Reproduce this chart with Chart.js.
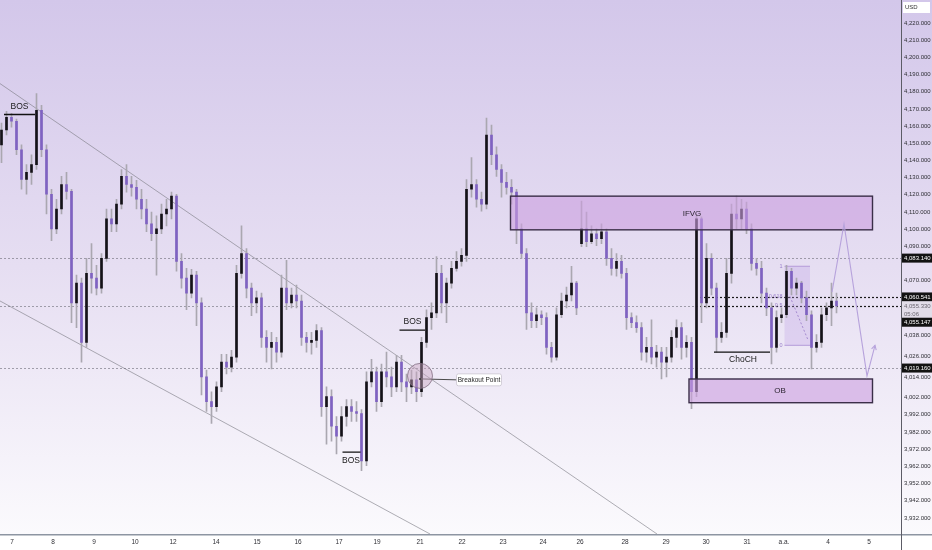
<!DOCTYPE html>
<html><head><meta charset="utf-8">
<script src="https://cdn.jsdelivr.net/npm/chart.js@4.4.1/dist/chart.umd.min.js"></script>
<style>html,body{margin:0;padding:0;background:#fff;overflow:hidden}canvas{display:block}</style>
</head><body>
<canvas id="c" width="932" height="550"></canvas>
<script>
// ---- candle data ----
const openP = [4149.0,4157.7,4165.1,4162.8,4146.2,4128.9,4133.0,4137.5,4169.2,4146.2,
4120.3,4100.2,4111.7,4126.0,4122.0,4057.1,4068.6,4034.1,4074.3,4071.5,
4065.7,4083.0,4106.0,4103.1,4114.6,4130.7,4126.0,4124.3,4117.4,4111.7,
4103.1,4097.3,4100.2,4108.8,4111.7,4119.2,4081.2,4071.5,4062.8,4073.2,
4057.1,4014.0,3999.6,3996.7,4008.2,4022.6,4019.7,4025.5,4074.3,4085.8,
4065.7,4057.1,4060.0,4037.0,4031.2,4034.1,4028.4,4065.7,4057.1,4061.7,
4058.2,4037.0,4034.1,4035.3,4041.0,3996.7,4002.5,3985.3,3979.5,3991.0,
3996.7,3993.9,3992.7,3965.1,4011.1,4016.9,3999.6,4016.9,4014.0,4008.2,
4022.6,4011.1,4008.2,4012.3,4005.4,4034.1,4048.5,4051.3,4074.3,4057.1,
4068.6,4077.2,4081.2,4084.7,4123.2,4126.0,4117.4,4114.6,4154.8,4143.3,
4134.7,4127.2,4124.3,4121.5,4100.2,4085.8,4051.3,4046.7,4050.2,4048.5,
4031.2,4025.5,4050.2,4058.2,4061.7,4068.6,4091.6,4100.2,4092.7,4097.3,
4094.4,4098.5,4083.0,4077.2,4081.2,4074.3,4048.5,4045.6,4042.7,4028.4,
4031.2,4025.5,4028.4,4022.6,4025.5,4037.0,4042.7,4031.2,4034.1,4005.4,
4106.0,4057.1,4083.0,4065.7,4037.0,4039.9,4074.3,4108.8,4106.0,4111.7,
4100.2,4080.1,4077.2,4062.8,4054.2,4031.2,4048.5,4050.2,4075.5,4065.7,
4068.6,4060.0,4050.2,4031.2,4034.1,4050.2,4054.2,4058.2];
const highP = [4161.7,4168.6,4167.4,4164.0,4149.0,4137.5,4143.3,4178.9,4172.0,4149.0,
4123.2,4117.4,4130.7,4133.0,4123.2,4073.2,4071.5,4083.0,4091.6,4078.9,
4085.8,4111.7,4111.7,4117.4,4134.7,4137.5,4130.7,4128.4,4123.2,4117.4,
4110.0,4107.7,4114.6,4117.4,4121.5,4120.3,4085.8,4077.2,4076.6,4075.5,
4060.0,4018.0,4005.4,4011.1,4027.2,4027.2,4029.5,4078.9,4101.9,4088.7,
4068.6,4064.0,4062.8,4041.0,4039.9,4037.0,4073.2,4081.8,4065.7,4067.4,
4061.7,4039.9,4039.9,4044.4,4042.7,4008.2,4006.5,3991.0,3996.7,4000.8,
4000.8,3999.6,3995.0,4016.9,4024.3,4019.7,4021.5,4028.4,4019.7,4026.6,
4026.6,4015.7,4018.0,4016.9,4037.0,4053.1,4057.1,4084.1,4078.9,4071.5,
4081.2,4087.0,4088.7,4128.9,4141.6,4128.9,4121.5,4164.6,4160.5,4147.9,
4137.5,4133.0,4128.9,4123.2,4103.1,4088.7,4057.1,4054.2,4052.5,4051.3,
4034.1,4054.2,4062.8,4066.3,4078.4,4069.7,4116.3,4110.0,4101.9,4100.2,
4103.1,4100.2,4088.7,4085.8,4084.7,4077.2,4051.3,4049.6,4045.6,4037.0,
4047.3,4032.4,4031.2,4031.2,4041.0,4047.3,4045.6,4038.1,4037.0,4108.8,
4107.1,4091.6,4085.8,4068.6,4045.6,4083.0,4114.6,4119.2,4117.4,4115.7,
4103.1,4083.0,4081.2,4065.7,4057.1,4052.5,4054.2,4078.9,4077.2,4071.5,
4069.7,4064.0,4052.5,4038.7,4054.2,4057.1,4068.6,4062.8];
const lowP = [4138.7,4154.8,4159.4,4143.3,4123.2,4120.3,4126.0,4134.7,4142.1,4108.8,
4093.3,4097.3,4108.8,4117.4,4045.6,4042.7,4022.6,4031.2,4062.8,4061.7,
4062.8,4081.2,4098.5,4098.5,4111.7,4121.5,4119.2,4111.7,4106.0,4098.5,
4093.3,4073.2,4097.3,4101.9,4106.0,4075.5,4065.7,4053.1,4060.0,4043.9,
4003.6,3993.9,3987.0,3993.9,4005.4,4015.7,4016.9,4022.6,4071.5,4060.0,
4049.6,4051.3,4031.2,4022.6,4018.6,4022.6,4025.5,4053.1,4054.2,4054.2,
4032.4,4028.4,4027.2,4031.2,3991.0,3974.9,3976.6,3969.2,3976.6,3985.3,
3988.1,3988.1,3959.4,3962.3,4008.2,3993.9,3996.7,4008.2,4002.5,4005.4,
4005.4,3999.6,4004.2,3999.6,4002.5,4031.2,4041.6,4048.5,4051.3,4045.6,
4065.7,4075.5,4078.4,4081.2,4118.6,4112.8,4110.5,4111.7,4137.5,4130.7,
4118.6,4120.3,4114.6,4091.6,4083.0,4041.6,4042.7,4042.7,4044.4,4027.2,
4022.6,4023.8,4048.5,4054.2,4058.2,4050.2,4089.8,4089.8,4091.6,4090.4,
4091.6,4078.9,4073.2,4072.6,4071.5,4041.6,4042.7,4039.9,4023.8,4022.6,
4021.5,4019.7,4012.8,4014.0,4022.6,4031.2,4024.3,4025.5,3995.6,4002.5,
4045.6,4054.2,4061.7,4028.4,4034.1,4037.0,4068.6,4100.2,4100.2,4097.3,
4076.1,4073.2,4057.1,4049.6,4021.5,4028.4,4045.6,4048.5,4061.7,4061.7,
4057.1,4046.7,4018.6,4028.4,4031.2,4046.7,4043.9,4051.3];
const closeP = [4157.7,4165.1,4162.8,4146.2,4128.9,4133.0,4137.5,4169.2,4146.2,4120.3,
4100.2,4111.7,4126.0,4122.0,4057.1,4068.6,4034.1,4074.3,4071.5,4065.7,
4083.0,4106.0,4103.1,4114.6,4130.7,4126.0,4124.3,4117.4,4111.7,4103.1,
4097.3,4100.2,4108.8,4111.7,4119.2,4081.2,4071.5,4062.8,4073.2,4057.1,
4014.0,3999.6,3996.7,4008.2,4022.6,4019.7,4025.5,4074.3,4085.8,4065.7,
4057.1,4060.0,4037.0,4031.2,4034.1,4028.4,4065.7,4057.1,4061.7,4058.2,
4037.0,4034.1,4035.3,4041.0,3996.7,4002.5,3985.3,3979.5,3991.0,3996.7,
3993.9,3992.7,3965.1,4011.1,4016.9,3999.6,4016.9,4014.0,4008.2,4022.6,
4011.1,4008.2,4012.3,4005.4,4034.1,4048.5,4051.3,4074.3,4057.1,4068.6,
4077.2,4081.2,4084.7,4123.2,4126.0,4117.4,4114.6,4154.8,4143.3,4134.7,
4127.2,4124.3,4121.5,4100.2,4085.8,4051.3,4046.7,4050.2,4048.5,4031.2,
4025.5,4050.2,4058.2,4061.7,4068.6,4054.2,4100.2,4092.7,4097.3,4094.4,
4098.5,4083.0,4077.2,4081.2,4074.3,4048.5,4045.6,4042.7,4028.4,4031.2,
4025.5,4028.4,4022.6,4025.5,4037.0,4042.7,4031.2,4034.1,4005.4,4106.0,
4057.1,4083.0,4065.7,4037.0,4039.9,4074.3,4108.8,4106.0,4111.7,4100.2,
4080.1,4077.2,4062.8,4054.2,4031.2,4048.5,4050.2,4075.5,4065.7,4068.6,
4060.0,4050.2,4031.2,4034.1,4050.2,4054.2,4058.2,4055.33];

// ---- axis labels ----
const tickPos    = [2.1,10.3,18.5,26.7,34.3,42.9,51.1,59.3,67.5,75.1,83.7,92.1,100.3,108.3,115.7,124.7,132.9,140.9,149.1,156.5,165.3,173.5];
const tickLabels = ['7','8','9','10','12','14','15','16','17','19','21','22','23','24','26','28','29','30','31','a.a.','4','5'];
const priceTicks = [4220,4210,4200,4190,4180,4170,4160,4150,4140,4130,4120,4110,4100,4090,4070,4038,4026,4014,4002,3992,3982,3972,3962,3952,3942,3932];

// ---- marked price levels ----
const levelFull  = [4083.14, 4055.147, 4019.16];
const levelRight = [4060.541, 4055.33];
const priceBoxes = [
  {v:4083.14,  t:'4,083.140', dark:true,  dy:0},
  {v:4060.541, t:'4,060.541', dark:true,  dy:0},
  {v:4055.33,  t:'4,055.330', dark:false, dy:0, sub:'05:06'},
  {v:4055.147, t:'4,055.147', dark:true,  dy:16},
  {v:4019.16,  t:'4,019.160', dark:true,  dy:0}
];

// ---- drawings (time index, price) ----
const channelUpper = [[-0.3,4184.7],[131.1,3922.6]];
const channelLower = [[-0.3,4058.2],[85.7,3922.6]];
const zones = [
  {name:'IFVG', x0:101.8, x1:174.2, top:4119.2, bot:4099.6, lx:138.1, ly:4109.2},
  {name:'OB',   x0:137.5, x1:174.2, top:4012.8, bot:3999.0, lx:155.7, ly:4005.9}
];
const structure = [
  {name:'BOS',   x0:0.5,   x1:6.7,   v:4166.7, lx:3.6,   lv:4171.1},
  {name:'BOS',   x0:79.6,  x1:84.7,  v:4041.2, lx:82.2,  lv:4046.0},
  {name:'BOS',   x0:68.2,  x1:71.8,  v:3970.3, lx:69.9,  lv:3965.1},
  {name:'ChoCH', x0:142.5, x1:153.7, v:4028.4, lx:148.3, lv:4023.8}
];
const breakout = {x:83.7, v:4014.6, lx:95.5, lv:4012.3, text:'Breakout Point'};
const projection = [[166.1,4063.4],[168.5,4103.1],[173.1,4014.6],[174.7,4032.4]];
const fib = {x0:156.6, x1:161.7, hi:4078.4, lo:4032.4, levels:[[1,'1'],[0.618,'0.618'],[0.5,'0.5'],[0,'0']]};

const FONT = "'Liberation Sans', Arial, sans-serif";
const idx = closeP.map((_, i) => i);
const fmt = v => v.toLocaleString('en-US', {minimumFractionDigits:3, maximumFractionDigits:3});

const overlay = {
  id:'overlay',
  beforeDraw(chart){
    const {ctx, width, height, chartArea:a} = chart;
    ctx.save();
    const g = ctx.createLinearGradient(0, 0, 0, a.bottom);
    g.addColorStop(0, '#d3c7ea');
    g.addColorStop(0.5, '#e6def2');
    g.addColorStop(1, '#fbfafd');
    ctx.fillStyle = g; ctx.fillRect(0, 0, width, a.bottom);
    ctx.fillStyle = '#ffffff'; ctx.fillRect(0, a.bottom, width, height - a.bottom);
    ctx.restore();
  },
  beforeDatasetsDraw(chart){
    const {ctx, chartArea:a, scales:{x, y}} = chart;
    const X = v => x.getPixelForValue(v), Y = v => y.getPixelForValue(v);
    ctx.save();
    ctx.beginPath(); ctx.rect(a.left, a.top, a.right - a.left, a.bottom - a.top); ctx.clip();
    ctx.strokeStyle = 'rgba(120,120,130,0.75)'; ctx.lineWidth = 0.8;
    [channelUpper, channelLower].forEach(l => {
      ctx.beginPath(); ctx.moveTo(X(l[0][0]), Y(l[0][1])); ctx.lineTo(X(l[1][0]), Y(l[1][1])); ctx.stroke();
    });
    ctx.setLineDash([2, 2]); ctx.strokeStyle = 'rgba(100,100,110,0.7)'; ctx.lineWidth = 0.8;
    levelFull.forEach(v => { const yy = Math.round(Y(v)) + 0.5; ctx.beginPath(); ctx.moveTo(a.left, yy); ctx.lineTo(a.right, yy); ctx.stroke(); });
    ctx.strokeStyle = '#1a1a1a'; ctx.lineWidth = 1.2;
    levelRight.forEach(v => { const yy = Math.round(Y(v)) + 0.5; ctx.beginPath(); ctx.moveTo(X(139.7), yy); ctx.lineTo(a.right, yy); ctx.stroke(); });
    ctx.setLineDash([]);
    ctx.fillStyle = 'rgba(190,160,228,0.30)';
    ctx.fillRect(X(fib.x0), Y(fib.hi), X(fib.x1) - X(fib.x0), Y(fib.lo) - Y(fib.hi));
    ctx.strokeStyle = '#b49bd9'; ctx.lineWidth = 1;
    [fib.hi, fib.lo].forEach(v => { ctx.beginPath(); ctx.moveTo(X(fib.x0), Y(v)); ctx.lineTo(X(fib.x1), Y(v)); ctx.stroke(); });
    ctx.setLineDash([2, 2]); ctx.strokeStyle = '#a68bd0';
    ctx.beginPath(); ctx.moveTo(X(157.7), Y(4060.8)); ctx.lineTo(X(161.3), Y(4035.5)); ctx.stroke();
    ctx.setLineDash([]);
    ctx.font = '5.5px ' + FONT; ctx.fillStyle = '#9c82cc'; ctx.textAlign = 'right'; ctx.textBaseline = 'middle';
    fib.levels.forEach(([r, t]) => { ctx.fillText(t, X(fib.x0) - 2, Y(fib.lo + r * (fib.hi - fib.lo))); });
    ctx.restore();
  },
  afterDatasetsDraw(chart){
    const {ctx, chartArea:a, scales:{x, y}} = chart;
    const X = v => x.getPixelForValue(v), Y = v => y.getPixelForValue(v);
    ctx.save();
    ctx.beginPath(); ctx.rect(a.left, a.top, a.right - a.left, a.bottom - a.top); ctx.clip();
    zones.forEach(z => {
      const x0 = X(z.x0), x1 = X(z.x1), y0 = Y(z.top), y1 = Y(z.bot);
      ctx.fillStyle = 'rgba(203,158,224,0.6)'; ctx.fillRect(x0, y0, x1 - x0, y1 - y0);
      ctx.strokeStyle = '#3a2e48'; ctx.lineWidth = 1.4; ctx.strokeRect(x0, y0, x1 - x0, y1 - y0);
      ctx.fillStyle = '#2b2530'; ctx.font = '8px ' + FONT; ctx.textAlign = 'center'; ctx.textBaseline = 'middle';
      ctx.fillText(z.name, X(z.lx), Y(z.ly));
    });
    structure.forEach(s => {
      ctx.strokeStyle = '#111'; ctx.lineWidth = 1.3;
      ctx.beginPath(); ctx.moveTo(X(s.x0), Y(s.v)); ctx.lineTo(X(s.x1), Y(s.v)); ctx.stroke();
      ctx.fillStyle = '#1a1a1a'; ctx.font = '8.5px ' + FONT; ctx.textAlign = 'center'; ctx.textBaseline = 'middle';
      ctx.fillText(s.name, X(s.lx), Y(s.lv));
    });
    const cx = X(breakout.x), cy = Y(breakout.v);
    ctx.strokeStyle = '#4a4a4a'; ctx.lineWidth = 1;
    ctx.beginPath(); ctx.moveTo(cx, cy + 3); ctx.lineTo(X(breakout.lx) - 22, Y(breakout.lv)); ctx.stroke();
    ctx.fillStyle = 'rgba(200,165,190,0.45)'; ctx.strokeStyle = 'rgba(130,110,130,0.8)';
    ctx.beginPath(); ctx.arc(cx, cy, 12.5, 0, Math.PI * 2); ctx.fill(); ctx.stroke();
    ctx.fillStyle = '#333'; ctx.beginPath(); ctx.arc(cx, cy + 3, 1, 0, Math.PI * 2); ctx.fill();
    const bx = X(breakout.lx), by = Y(breakout.lv);
    ctx.fillStyle = '#ffffff'; ctx.strokeStyle = '#c9c4cf'; ctx.lineWidth = 0.8;
    ctx.beginPath(); ctx.roundRect(bx - 22.5, by - 6, 45, 12, 2); ctx.fill(); ctx.stroke();
    ctx.fillStyle = '#2a2a2a'; ctx.font = '6.5px ' + FONT; ctx.textAlign = 'center'; ctx.textBaseline = 'middle';
    ctx.fillText(breakout.text, bx, by + 0.5);
    ctx.strokeStyle = '#b7a3dc'; ctx.lineWidth = 1.1;
    ctx.beginPath();
    projection.forEach((p, i) => { const px = X(p[0]), py = Y(p[1]); i ? ctx.lineTo(px, py) : ctx.moveTo(px, py); });
    ctx.stroke();
    const e = projection[projection.length - 1], s = projection[projection.length - 2];
    const ex = X(e[0]), ey = Y(e[1]), ang = Math.atan2(ey - Y(s[1]), ex - X(s[0]));
    ctx.beginPath();
    ctx.moveTo(ex - 5 * Math.cos(ang - 0.5), ey - 5 * Math.sin(ang - 0.5)); ctx.lineTo(ex, ey);
    ctx.lineTo(ex - 5 * Math.cos(ang + 0.5), ey - 5 * Math.sin(ang + 0.5)); ctx.stroke();
    ctx.restore();
  },
  afterDraw(chart){
    const {ctx, width, height, chartArea:a, scales:{y}} = chart;
    ctx.save();
    ctx.strokeStyle = '#8d95a2'; ctx.lineWidth = 1.5;
    ctx.beginPath(); ctx.moveTo(0, a.bottom + 0.75); ctx.lineTo(width, a.bottom + 0.75); ctx.stroke();
    ctx.strokeStyle = '#5c5c66'; ctx.lineWidth = 1;
    ctx.beginPath(); ctx.moveTo(a.right + 0.5, 0); ctx.lineTo(a.right + 0.5, height); ctx.stroke();
    ctx.fillStyle = '#ffffff'; ctx.fillRect(a.right + 2, 2, 27, 11);
    ctx.fillStyle = '#333'; ctx.font = '6px ' + FONT; ctx.textAlign = 'left'; ctx.textBaseline = 'middle';
    ctx.fillText('USD', a.right + 4, 7.5);
    priceBoxes.forEach(b => {
      const yy = y.getPixelForValue(b.v) + b.dy;
      const h = b.sub ? 17 : 9;
      ctx.fillStyle = b.dark ? '#121212' : '#e2dde9';
      ctx.fillRect(a.right + 1, yy - 4.5, width - a.right - 1, h);
      ctx.fillStyle = b.dark ? '#ffffff' : '#6a6670';
      ctx.font = '6px ' + FONT; ctx.textAlign = 'left'; ctx.textBaseline = 'middle';
      ctx.fillText(b.t, a.right + 3, yy);
      if (b.sub) ctx.fillText(b.sub, a.right + 3, yy + 8);
    });
    ctx.restore();
  }
};

new Chart(document.getElementById('c'), {
  type: 'bar',
  data: {
    datasets: [
      { label:'wick', data: idx.map(i => ({x:i, y:[lowP[i], highP[i]]})),
        backgroundColor:'#aaa7b0', barThickness:1, grouped:false, order:2 },
      { label:'body', data: idx.map(i => ({x:i, y:[openP[i], closeP[i]]})),
        backgroundColor: idx.map(i => closeP[i] >= openP[i] ? '#141218' : '#7f62c2'),
        barThickness:2, grouped:false, order:1, minBarLength:1 }
    ]
  },
  options: {
    responsive:false, animation:false, events:[],
    layout:{padding:0},
    plugins:{legend:{display:false}, tooltip:{enabled:false}},
    scales:{
      x:{ type:'linear', min:-0.3, max:179.9, offset:false,
          grid:{display:false, drawTicks:false}, border:{display:false},
          afterBuildTicks: s => { s.ticks = tickPos.map(v => ({value:v})); },
          afterFit: s => { s.height = 16; },
          ticks:{ autoSkip:false, maxRotation:0, padding:4, color:'#2f2f35',
                  font:{size:6.5, family:FONT}, callback:(v, i) => tickLabels[i] } },
      y:{ type:'linear', position:'right', min:3922.6, max:4229.5,
          grid:{display:false, drawTicks:false}, border:{display:false},
          afterBuildTicks: s => { s.ticks = priceTicks.map(v => ({value:v})); },
          afterFit: s => { s.width = 31; },
          ticks:{ autoSkip:false, padding:3, crossAlign:'near', color:'#2f2f35',
                  font:{size:6, family:FONT}, callback: v => fmt(v) } }
    }
  },
  plugins:[overlay]
});
</script>
</body></html>
